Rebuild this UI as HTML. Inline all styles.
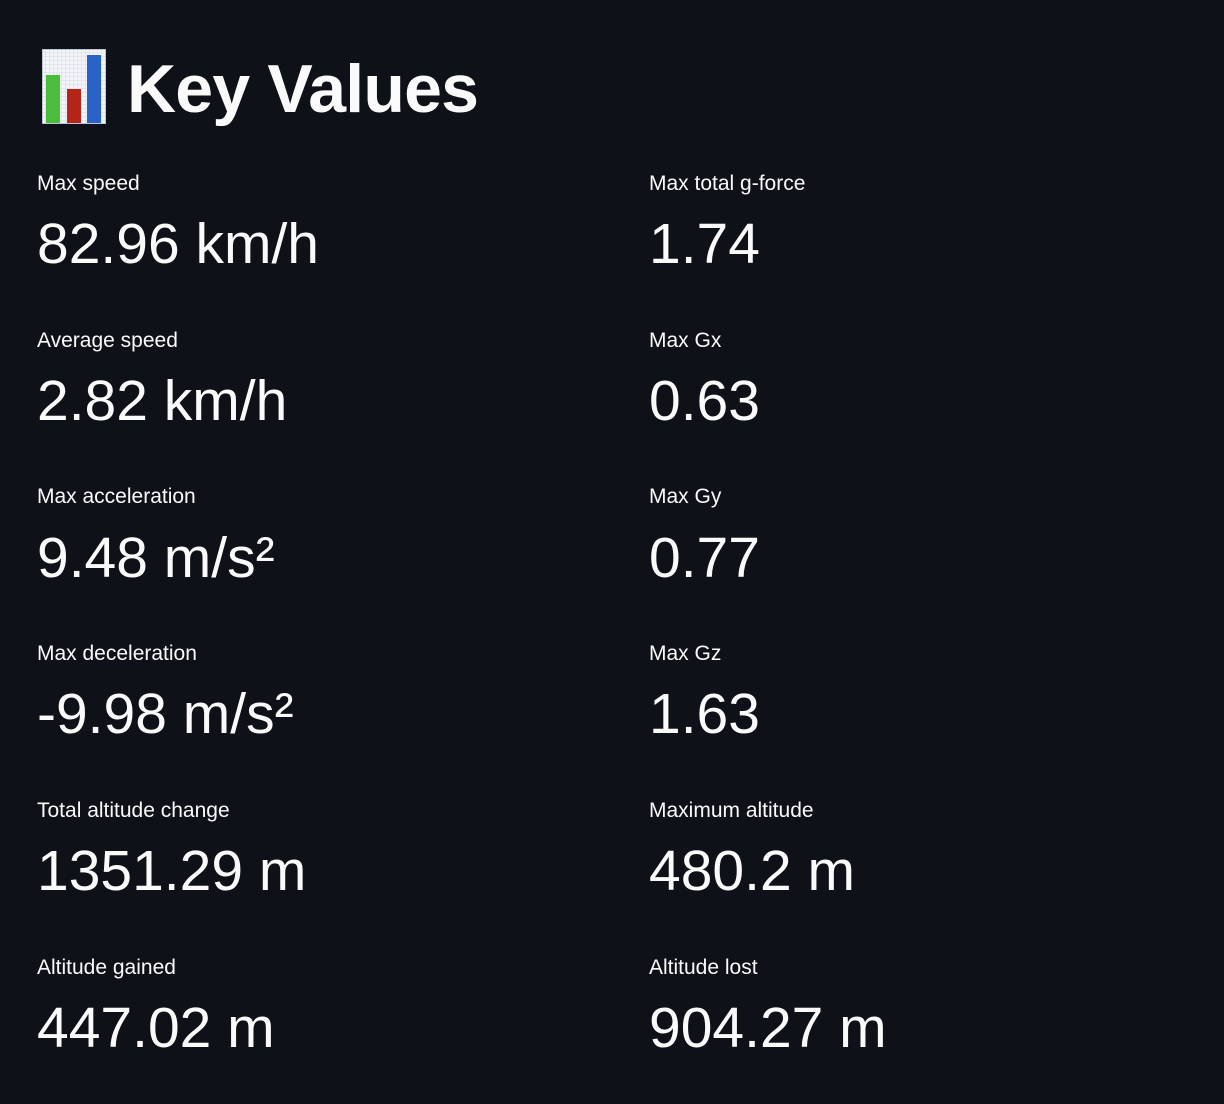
<!DOCTYPE html>
<html><head><meta charset="utf-8">
<style>
html,body{margin:0;padding:0;}
body{width:1224px;height:1104px;background:#0e1117;color:#fafafa;font-family:"Liberation Sans",sans-serif;position:relative;overflow:hidden;}
.t{position:absolute;line-height:1;white-space:nowrap;}
.lbl{font-size:21px;}
.val{font-size:57px;}
h1{position:absolute;left:127px;top:55px;margin:0;font-size:68px;font-weight:bold;line-height:1;letter-spacing:-0.8px;}
</style></head>
<body>
<svg style="position:absolute;left:42px;top:49px" width="64" height="75" viewBox="0 0 64 75">
<defs><pattern id="g" width="4" height="4" patternUnits="userSpaceOnUse"><rect width="4" height="4" fill="#f2f4f8"/><path d="M4 0V4H0" fill="none" stroke="#c8d2e6" stroke-width="0.8"/></pattern></defs>
<rect x="0" y="0" width="64" height="75" fill="url(#g)" stroke="#8a97ad" stroke-width="1"/>
<rect x="4" y="26" width="14" height="48" fill="#4cbc3c"/>
<rect x="25" y="40" width="14" height="34" fill="#b42418"/>
<rect x="45" y="6" width="14" height="68" fill="#2a63c8"/>
</svg>
<h1>Key Values</h1>

<div class="t lbl" style="left:37px;top:173px">Max speed</div>
<div class="t val" style="left:37px;top:216px">82.96 km/h</div>
<div class="t lbl" style="left:37px;top:330px">Average speed</div>
<div class="t val" style="left:37px;top:373px">2.82 km/h</div>
<div class="t lbl" style="left:37px;top:486px">Max acceleration</div>
<div class="t val" style="left:37px;top:530px">9.48 m/s²</div>
<div class="t lbl" style="left:37px;top:643px">Max deceleration</div>
<div class="t val" style="left:37px;top:686px">-9.98 m/s²</div>
<div class="t lbl" style="left:37px;top:800px">Total altitude change</div>
<div class="t val" style="left:37px;top:843px">1351.29 m</div>
<div class="t lbl" style="left:37px;top:957px">Altitude gained</div>
<div class="t val" style="left:37px;top:1000px">447.02 m</div>

<div class="t lbl" style="left:649px;top:173px">Max total g-force</div>
<div class="t val" style="left:649px;top:216px">1.74</div>
<div class="t lbl" style="left:649px;top:330px">Max Gx</div>
<div class="t val" style="left:649px;top:373px">0.63</div>
<div class="t lbl" style="left:649px;top:486px">Max Gy</div>
<div class="t val" style="left:649px;top:530px">0.77</div>
<div class="t lbl" style="left:649px;top:643px">Max Gz</div>
<div class="t val" style="left:649px;top:686px">1.63</div>
<div class="t lbl" style="left:649px;top:800px">Maximum altitude</div>
<div class="t val" style="left:649px;top:843px">480.2 m</div>
<div class="t lbl" style="left:649px;top:957px">Altitude lost</div>
<div class="t val" style="left:649px;top:1000px">904.27 m</div>
</body></html>
